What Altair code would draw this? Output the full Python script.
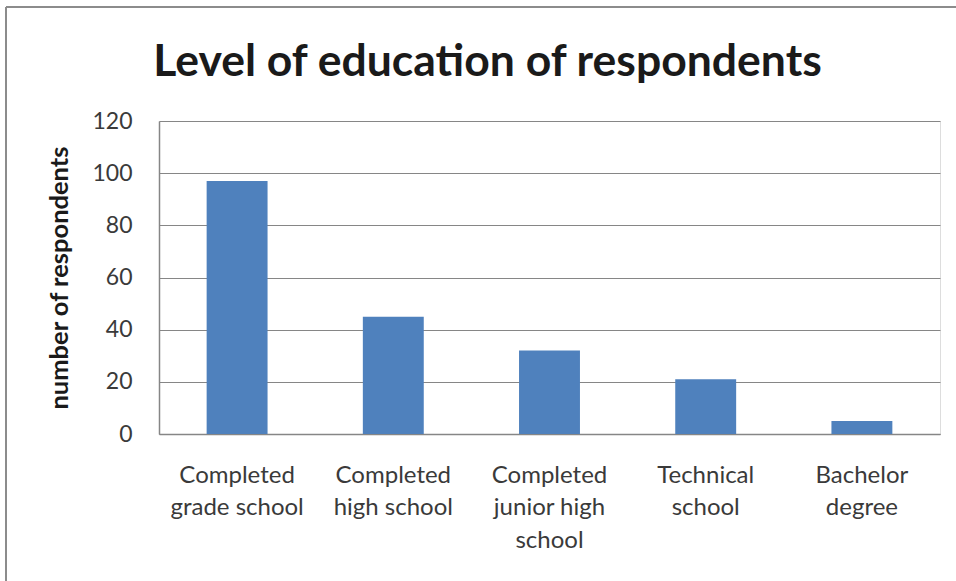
import altair as alt
import pandas as pd

categories = ["Completed grade school", "Completed high school",
              "Completed junior high school", "Technical school", "Bachelor degree"]
label_lines = [["Completed", "grade school"], ["Completed", "high school"],
               ["Completed", "junior high", "school"], ["Technical", "school"],
               ["Bachelor", "degree"]]
values = [97, 45, 32, 21, 5]

df = pd.DataFrame({"level": categories, "count": values})

label_expr = ""
for c, lines in zip(categories, label_lines):
    arr = "[" + ",".join("'" + l + "'" for l in lines) + "]"
    label_expr += f"datum.value == '{c}' ? {arr} : "
label_expr += "datum.label"

FONT = "Lato"

bars = alt.Chart(df).mark_bar(color="#4f81bd").encode(
    x=alt.X("level:N", sort=categories,
            scale=alt.Scale(paddingInner=0.61, paddingOuter=0.305),
            axis=alt.Axis(title=None, labelAngle=0, labelExpr=label_expr,
                          labelFont=FONT, labelFontSize=24, labelColor="#3a3a3a",
                          labelLineHeight=32.5, labelPadding=29, ticks=False,
                          domainColor="#868686", domainWidth=1.5, labelBaseline="top")),
    y=alt.Y("count:Q", scale=alt.Scale(domain=[0, 120]),
            axis=alt.Axis(title="number of respondents", values=[0, 20, 40, 60, 80, 100, 120],
                          labelFont=FONT, labelFontSize=23, labelColor="#3a3a3a",
                          labelPadding=27, ticks=False, domain=True,
                          domainColor="#868686", domainWidth=1.5,
                          gridColor="#868686", gridWidth=1.2,
                          titleFont=FONT, titleFontSize=25.5, titleFontWeight="bold",
                          titleColor="#1a1a1a", titlePadding=19)),
)

frame_top = alt.Chart(df).mark_rule(color="#8c8c8c", strokeWidth=2).encode(
    x=alt.value(-153), x2=alt.value(820), y=alt.value(-114)
)
frame_left = alt.Chart(df).mark_rule(color="#8c8c8c", strokeWidth=2).encode(
    x=alt.value(-153), y=alt.value(-114), y2=alt.value(470)
)

chart = alt.layer(bars, frame_top, frame_left).properties(
    width=781, height=313,
    autosize=alt.AutoSizeParams(type="none"),
    padding={"left": 159, "top": 121, "right": 16, "bottom": 147},
    title=alt.TitleParams("Level of education of respondents", font=FONT, fontSize=44.5,
                          fontWeight="bold", color="#1a1a1a", anchor="middle",
                          dx=-62, offset=-114, baseline="alphabetic"),
).configure_view(stroke=None).configure(background="white")

chart.save("out.html", embed_options={"renderer": "svg", "actions": False})
